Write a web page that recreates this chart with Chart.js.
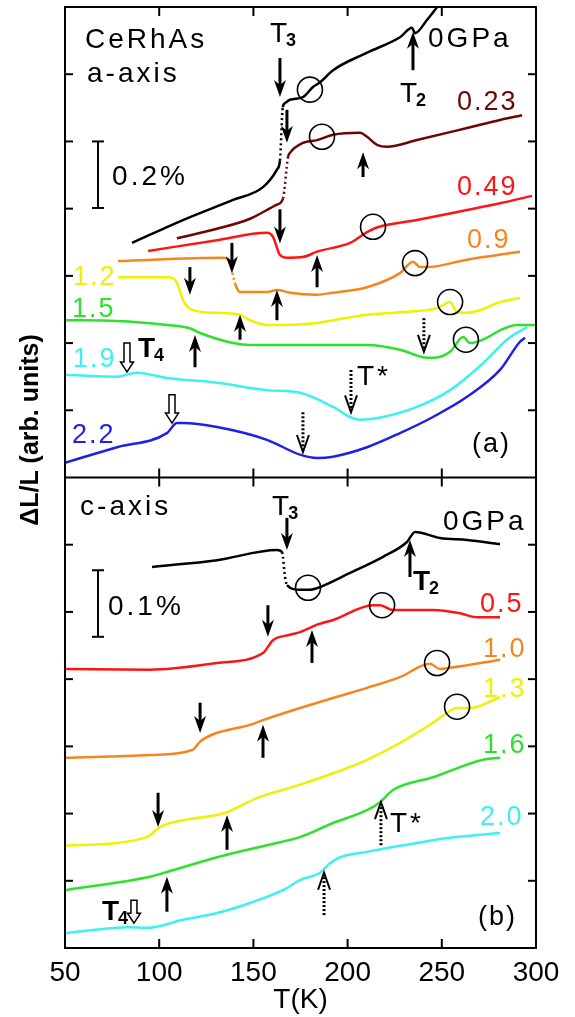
<!DOCTYPE html>
<html>
<head>
<meta charset="utf-8">
<script src="https://cdn.jsdelivr.net/npm/chart.js@4.4.0/dist/chart.umd.min.js"></script>
<style>
  body { margin: 0; background: #fff; }
  #c { display: block; }
</style>
</head>
<body>
<canvas id="c" width="575" height="1017"></canvas>
<script>
// x axis: temperature (K)
var tMin = 50, tMax = 300, tStep = 50;
// y axis: arbitrary units, panel (b) 0..7, panel (a) 7..14
var yMin = 0, yMax = 14, panelSplit = 7;

// (a) a-axis, [T, dL/L offset]
var a000 = [[85.6,10.49],[112.6,10.83],[139.2,11.13],[155.1,11.32],[162.5,11.58],[164.1,11.72],[165.6,12.51],[166.8,12.57],[169.4,12.62],[176.3,12.66],[181.6,12.81],[185.4,12.88],[192.3,13.06],[210.3,13.32],[227.8,13.55],[234.2,13.69],[235.8,13.61],[242.2,13.81],[247.5,14.0],[251.7,14.18]];
var a023 = [[109.4,10.56],[130.7,10.70],[148.2,10.85],[162.5,11.06],[165.7,11.15],[168.4,11.77],[169.4,11.83],[176.3,11.98],[183.8,12.02],[192.3,12.10],[206.6,12.13],[210.3,12.07],[215.6,11.95],[220.9,11.92],[236.8,12.02],[263.4,12.20],[280.9,12.32],[292.6,12.39]];
var a049 = [[94.1,10.37],[130.7,10.53],[157.2,10.64],[160.4,10.58],[164.1,10.31],[167.8,10.27],[176.3,10.28],[183.8,10.36],[201.3,10.49],[210.3,10.65],[215.6,10.72],[236.8,10.83],[263.4,10.98],[280.9,11.08],[297.9,11.19]];
var a090 = [[78.1,10.22],[133.9,10.27],[137.6,10.19],[140.2,9.89],[142.9,9.76],[157.2,9.76],[162.5,9.79],[169.4,9.75],[183.8,9.72],[192.3,9.75],[210.3,9.83],[227.8,10.04],[234.7,10.21],[238.4,10.13],[242.2,10.13],[263.4,10.24],[291.5,10.36]];
var a120 = [[78.1,9.98],[105.7,9.98],[109.5,9.89],[112.6,9.64],[117.9,9.49],[130.7,9.45],[142.9,9.42],[148.2,9.34],[157.2,9.27],[165.7,9.27],[183.8,9.30],[192.3,9.34],[210.3,9.42],[227.8,9.46],[247.5,9.52],[254.4,9.61],[258.1,9.46],[263.4,9.45],[270.3,9.49],[280.9,9.61],[291.5,9.67]];
var a150 = [[50,9.34],[77.6,9.33],[104.1,9.27],[116.3,9.22],[121.7,9.15],[139.2,9.00],[148.2,8.97],[183.8,8.97],[210.3,8.97],[227.8,8.90],[240.0,8.79],[245.3,8.78],[254.4,8.87],[261.3,9.09],[265.0,9.00],[274.0,9.08],[280.9,9.19],[289.9,9.27],[300,9.27]];
var a190 = [[50,8.53],[77.6,8.50],[88.2,8.56],[104.1,8.48],[130.7,8.41],[157.2,8.30],[174.7,8.26],[192.3,8.05],[201.3,7.90],[206.6,7.86],[218.8,7.90],[236.8,8.05],[254.4,8.30],[271.9,8.70],[284.6,9.05],[295.2,9.24]];
var a220 = [[50,7.22],[77.6,7.45],[104.1,7.66],[109.4,7.81],[112.6,7.81],[130.7,7.75],[157.2,7.56],[174.7,7.34],[183.8,7.29],[192.3,7.31],[210.3,7.45],[227.8,7.66],[245.3,7.90],[263.4,8.20],[280.9,8.60],[291.5,9.02],[294.2,9.08]];

// (b) c-axis
var c000 = [[96.2,5.67],[130.7,5.77],[162.5,5.92],[165.2,5.89],[166.8,5.52],[167.8,5.40],[174.7,5.33],[180.0,5.33],[185.4,5.37],[201.3,5.58],[218.8,5.82],[231.5,6.04],[235.8,6.19],[249.0,6.10],[263.4,6.07],[280.9,6.01]];
var c050 = [[50,4.15],[95.1,4.14],[130.7,4.24],[155.1,4.39],[160.4,4.58],[169.4,4.66],[174.7,4.70],[183.8,4.81],[192.3,4.88],[213.5,5.10],[217.2,5.10],[224.1,5.03],[245.3,5.03],[259.7,4.98],[268.7,4.92],[280.9,4.92]];
var c100 = [[50,2.83],[95.1,2.87],[117.9,2.95],[121.7,3.07],[128.6,3.18],[148.2,3.32],[155.1,3.39],[174.7,3.57],[192.3,3.72],[210.3,3.87],[227.8,4.03],[243.7,4.23],[249.0,4.15],[254.4,4.17],[280.9,4.29]];
var c130 = [[50,1.52],[93.5,1.65],[100.4,1.80],[112.6,1.90],[130.7,1.98],[136.0,2.02],[151.9,2.23],[174.7,2.43],[192.3,2.60],[210.3,2.80],[227.8,3.05],[245.3,3.35],[251.7,3.48],[258.1,3.57],[265.0,3.57],[280.9,3.73]];
var c160 = [[50,0.86],[95.1,1.06],[104.1,1.13],[130.7,1.35],[157.2,1.53],[174.7,1.65],[192.3,1.86],[210.3,2.05],[217.2,2.17],[224.1,2.35],[245.3,2.54],[271.9,2.80],[280.9,2.83]];
var c200 = [[50,0.22],[77.6,0.30],[82.9,0.31],[93.5,0.30],[112.6,0.42],[130.7,0.52],[148.2,0.67],[165.7,0.86],[174.7,1.01],[185.4,1.12],[190.7,1.26],[196.0,1.35],[210.3,1.43],[227.8,1.52],[254.4,1.64],[280.9,1.71]];

// markers: circles [T, y], arrows [T, tail, tip], scale bars [T, y0, y1]
var circles = [[180,12.77],[186.4,12.07],[213.5,10.73],[235.8,10.19],[254.4,9.61],[262.8,9.05],
  [179,5.36],[218.3,5.10],[247.5,4.24],[258.1,3.59]];
var solidArrows = [[164.1,13.24,12.66],[167.8,12.47,11.98],[234.7,13.06,13.63],[208.2,11.47,11.84],
  [164.1,10.99,10.48],[183.8,9.83,10.31],[138.6,10.49,10.04],[162.5,9.34,9.79],[116.3,10.13,9.72],
  [142.9,9.05,9.42],[119,8.64,9.12],
  [167.8,6.40,5.92],[233.1,5.52,6.07],[157.7,5.10,4.63],[181.1,4.24,4.73],[121.7,3.65,3.20],
  [155.1,2.83,3.32],[99.4,2.31,1.80],[136,1.46,1.98],[104.1,0.54,1.06]];
var dottedArrows = [[240.5,9.37,8.87],[201.8,8.60,7.97],[176.3,7.97,7.38],[217.7,1.53,2.17],[187.5,0.49,1.12]];
var hollowArrows = [[82.9,9.00,8.57],[106.8,8.23,7.81],[86.6,0.71,0.37]];
var scaleBars = [[67.5,12.0,11.01],[67.5,5.62,4.63]];

// texts [text, T, y, kind, color]
var words = [
  ['CeRhAs', 60.6, 13.39, 'word', '#000'],
  ['a-axis', 61.7, 12.88, 'word', '#000'],
  ['0GPa', 242.7, 13.41, 'word', '#000'],
  ['0.2%', 75, 11.35, 'word', '#000'],
  ['0.23', 258.1, 12.47, 'num', '#6e0505'],
  ['0.49', 258.1, 11.20, 'num', '#ff1414'],
  ['0.9', 263.4, 10.42, 'num', '#f5861f'],
  ['1.2', 54.2, 9.86, 'num', '#f0f000'],
  ['1.5', 53.7, 9.39, 'num', '#2fe02f'],
  ['1.9', 54.2, 8.64, 'num', '#3ef0f0'],
  ['2.2', 53.7, 7.51, 'num', '#1f1fe6'],
  ['T*', 205, 8.38, 'word', '#000'],
  ['(a)', 266, 7.38, 'num', '#000'],
  ['c-axis', 58, 6.44, 'word', '#000'],
  ['0GPa', 250.6, 6.22, 'word', '#000'],
  ['0.1%', 72.8, 4.95, 'word', '#000'],
  ['0.5', 270.3, 5.00, 'num', '#ff1414'],
  ['1.0', 271.9, 4.33, 'num', '#f5861f'],
  ['1.3', 271.9, 3.73, 'num', '#f0f000'],
  ['1.6', 271.9, 2.90, 'num', '#2fe02f'],
  ['2.0', 270.3, 1.83, 'num', '#3ef0f0'],
  ['T*', 222.5, 1.73, 'word', '#000'],
  ['(b)', 269.2, 0.34, 'num', '#000']
];
// T with subscript [sub, T, y, bold]
var tLabels = [['3', 158.8, 13.48, false], ['2', 227.8, 12.59, false], ['4', 88.7, 8.79, true],
  ['3', 159.9, 6.44, false], ['2', 234.7, 5.33, true], ['4', 69.6, 0.42, true]];

var curves = [
  { pts: a000, color: '#000000' },
  { pts: a023, color: '#6e0505' },
  { pts: a049, color: '#ff1414' },
  { pts: a090, color: '#f5861f' },
  { pts: a120, color: '#f0f000' },
  { pts: a150, color: '#2fe02f' },
  { pts: a190, color: '#3ef0f0' },
  { pts: a220, color: '#1f1fe6' },
  { pts: c000, color: '#000000' },
  { pts: c050, color: '#ff1414' },
  { pts: c100, color: '#f5861f' },
  { pts: c130, color: '#f0f000' },
  { pts: c160, color: '#2fe02f' },
  { pts: c200, color: '#3ef0f0' }
];

var datasets = curves.map(function (c) {
  return {
    data: c.pts.map(function (p) { return { x: p[0], y: p[1] }; }),
    borderColor: c.color,
    borderWidth: 2.5,
    pointRadius: 0,
    cubicInterpolationMode: 'monotone',
    segment: {
      // steep jumps were measured as sparse dots
      borderDash: function (s) {
        return Math.abs(s.p1.y - s.p0.y) > 3.5 * Math.abs(s.p1.x - s.p0.x) ? [2, 3] : undefined;
      }
    }
  };
});

function line(ctx, x0, y0, x1, y1) {
  ctx.beginPath(); ctx.moveTo(x0, y0); ctx.lineTo(x1, y1); ctx.stroke();
}

var overlay = {
  id: 'overlay',
  afterDatasetsDraw: function (chart) {
    var ctx = chart.ctx, a = chart.chartArea;
    var X = function (t) { return chart.scales.x.getPixelForValue(t); };
    var Y = function (v) { return chart.scales.y.getPixelForValue(v); };
    ctx.save();
    ctx.strokeStyle = '#000';
    ctx.fillStyle = '#000';
    ctx.lineCap = 'butt';

    // frame + panel split
    ctx.lineWidth = 2;
    ctx.strokeRect(a.left, a.top, a.right - a.left, a.bottom - a.top);
    var mid = Y(panelSplit);
    line(ctx, a.left, mid, a.right, mid);

    // inward ticks
    for (var v = yMin + 1; v < yMax; v++) {
      if (v === panelSplit) continue;
      line(ctx, a.left, Y(v), a.left + 8, Y(v));
      line(ctx, a.right - 8, Y(v), a.right, Y(v));
    }
    for (var t = tMin + tStep; t < tMax; t += tStep) {
      line(ctx, X(t), a.top, X(t), a.top + 9);
      line(ctx, X(t), mid - 9, X(t), mid + 9);
      line(ctx, X(t), a.bottom - 9, X(t), a.bottom);
    }

    // scale bars
    ctx.lineWidth = 2;
    scaleBars.forEach(function (b) {
      var x = X(b[0]), y0 = Y(b[1]), y1 = Y(b[2]);
      line(ctx, x, y0, x, y1);
      line(ctx, x - 6, y0, x + 6, y0);
      line(ctx, x - 6, y1, x + 6, y1);
    });

    // circles
    ctx.lineWidth = 1.6;
    circles.forEach(function (c) {
      ctx.beginPath(); ctx.arc(X(c[0]), Y(c[1]), 12.5, 0, Math.PI * 2); ctx.stroke();
    });

    // solid arrows
    solidArrows.forEach(function (r) {
      var x = X(r[0]), y0 = Y(r[1]), y1 = Y(r[2]), d = y1 > y0 ? 1 : -1;
      ctx.lineWidth = 3;
      line(ctx, x, y0, x, y1 - d * 10);
      ctx.beginPath();
      ctx.moveTo(x, y1);
      ctx.lineTo(x - 6, y1 - d * 17);
      ctx.lineTo(x, y1 - d * 12);
      ctx.lineTo(x + 6, y1 - d * 17);
      ctx.closePath(); ctx.fill();
    });

    // dotted arrows
    dottedArrows.forEach(function (r) {
      var x = X(r[0]), y0 = Y(r[1]), y1 = Y(r[2]), d = y1 > y0 ? 1 : -1;
      ctx.lineWidth = 3;
      ctx.setLineDash([2, 2]);
      line(ctx, x, y0, x, y1 - d * 3);
      ctx.setLineDash([]);
      ctx.lineWidth = 2;
      ctx.beginPath();
      ctx.moveTo(x - 6, y1 - d * 17);
      ctx.lineTo(x, y1);
      ctx.lineTo(x + 6, y1 - d * 17);
      ctx.stroke();
    });

    // hollow arrows
    ctx.lineWidth = 1.5;
    hollowArrows.forEach(function (r) {
      var x = X(r[0]), y0 = Y(r[1]), y1 = Y(r[2]), d = y1 > y0 ? 1 : -1;
      ctx.beginPath();
      ctx.moveTo(x - 3, y0);
      ctx.lineTo(x - 3, y1 - d * 10);
      ctx.lineTo(x - 6.5, y1 - d * 10);
      ctx.lineTo(x, y1);
      ctx.lineTo(x + 6.5, y1 - d * 10);
      ctx.lineTo(x + 3, y1 - d * 10);
      ctx.lineTo(x + 3, y0);
      ctx.closePath();
      ctx.fillStyle = '#fff'; ctx.fill(); ctx.stroke();
    });
    ctx.fillStyle = '#000';

    // texts
    ctx.textAlign = 'left';
    ctx.textBaseline = 'alphabetic';
    words.forEach(function (w) {
      if (w[3] === 'word') { ctx.font = '28px "Liberation Sans", Arial, sans-serif'; ctx.letterSpacing = '3px'; }
      else { ctx.font = '27px "Liberation Sans", Arial, sans-serif'; ctx.letterSpacing = '2px'; }
      ctx.fillStyle = w[4];
      ctx.fillText(w[0], X(w[1]), Y(w[2]));
    });
    ctx.letterSpacing = '0px';
    ctx.fillStyle = '#000';
    tLabels.forEach(function (l) {
      var x = X(l[1]), y = Y(l[2]);
      ctx.font = (l[3] ? 'bold ' : '') + '28px "Liberation Sans", Arial, sans-serif';
      ctx.fillText('T', x, y);
      var w = ctx.measureText('T').width;
      ctx.font = 'bold 18px "Liberation Sans", Arial, sans-serif';
      ctx.fillText(l[0], x + w - 1, y + 4);
    });

    // y title
    ctx.save();
    ctx.translate(31, 430);
    ctx.rotate(-Math.PI / 2);
    ctx.textAlign = 'center';
    ctx.textBaseline = 'middle';
    ctx.font = 'bold 25px "Liberation Sans", Arial, sans-serif';
    ctx.fillText('\u0394L/L (arb. units)', 0, 0);
    ctx.restore();

    ctx.restore();
  }
};

new Chart(document.getElementById('c'), {
  type: 'line',
  data: { datasets: datasets },
  options: {
    responsive: false,
    animation: false,
    layout: { padding: { left: 65, right: 39, top: 7, bottom: 0 } },
    plugins: { legend: { display: false }, tooltip: { enabled: false } },
    scales: {
      x: {
        type: 'linear',
        min: tMin, max: tMax,
        grid: { display: false },
        border: { display: false },
        ticks: { stepSize: tStep, color: '#000', padding: 0, maxRotation: 0,
          font: { family: '"Liberation Sans", Arial, sans-serif', size: 28 } },
        title: { display: true, text: 'T(K)', color: '#000', padding: 0,
          font: { family: '"Liberation Sans", Arial, sans-serif', size: 28 } },
        afterFit: function (s) { s.height = 69; }
      },
      y: { type: 'linear', min: yMin, max: yMax, display: false }
    }
  },
  plugins: [overlay]
});
</script>
</body>
</html>
